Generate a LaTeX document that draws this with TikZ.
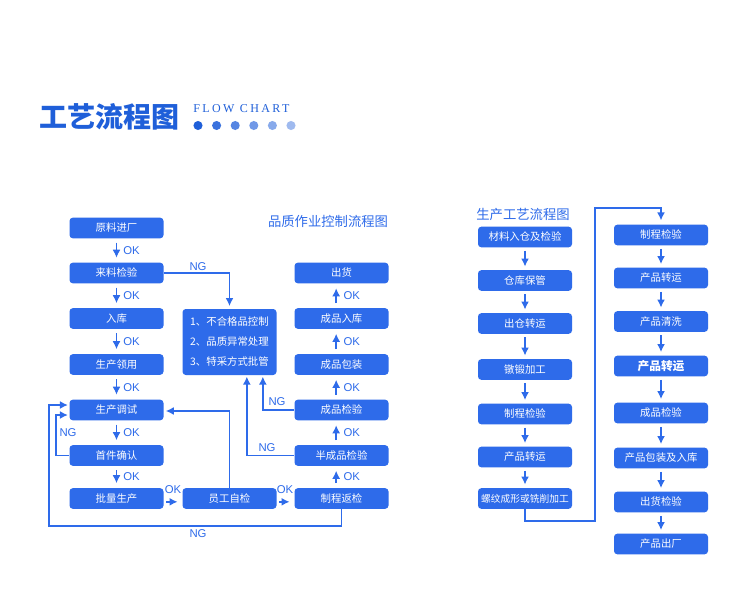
\documentclass[tikz,border=0pt]{standalone}
\usepackage{fontspec}
\setmainfont{Liberation Sans}
\newfontfamily\cjk{Noto Sans CJK SC}
\newfontfamily\latinserif[LetterSpace=20]{Liberation Serif}
\usetikzlibrary{positioning,arrows.meta}
\definecolor{flowblue}{HTML}{2E6BEA}
\definecolor{titleblue}{HTML}{1F5FD9}

\begin{document}
\begin{tikzpicture}[
        x=0.75pt, y=-0.75pt,
        stage/.style={fill=flowblue, rounded corners=2.5pt, minimum width=70.5pt, minimum height=15.5pt, inner sep=0pt, text=white, font=\cjk\fontsize{7.8}{9}\selectfont},
        link/.style={draw=flowblue, line width=1.25pt, -{Latex[length=6pt,width=6pt]}},
        tag/.style={text=flowblue, inner sep=0pt, font=\fontsize{8.5}{10}\selectfont}
    ]
        \useasboundingbox[fill=white] (0,0) rectangle (750,614);

        % heading
        \node[anchor=west, inner sep=0pt, text=titleblue, font=\cjk\bfseries\fontsize{21}{24}\selectfont] (title) at (39,117) {工艺流程图};
        \node[anchor=west, inner sep=0pt, text=titleblue, font=\latinserif\fontsize{9}{10}\selectfont] (entitle) at (193,108.5) {FLOW CHART};
        \foreach \i/\c in {0/100,1/88,2/76,3/64,4/53,5/43}
            \fill[titleblue!\c] (198+\i*18.6,125.5) circle (3.4pt);

        % quality control chart
        \node[text=flowblue, font=\cjk\fontsize{10}{12}\selectfont] (qctitle) at (328,221) {品质作业控制流程图};

        \node[stage] (a1) at (116.5,228)   {原料进厂};
        \node[stage] (a2) at (116.5,273)   {来料检验};
        \node[stage] (a3) at (116.5,318.5) {入库};
        \node[stage] (a4) at (116.5,364.5) {生产领用};
        \node[stage] (a5) at (116.5,410)   {生产调试};
        \node[stage] (a6) at (116.5,455.5) {首件确认};
        \node[stage] (a7) at (116.5,498.5) {批量生产};

        \node[stage, minimum height=49.5pt, align=left, font=\cjk\fontsize{7.8}{15}\selectfont] (ng) at (229.5,342)
            {1、不合格品控制\\2、品质异常处理\\3、特采方式批管};
        \node[stage] (m2) at (229.5,498.5) {员工自检};

        \node[stage] (r1) at (341.5,273)   {出货};
        \node[stage] (r2) at (341.5,318.5) {成品入库};
        \node[stage] (r3) at (341.5,364.5) {成品包装};
        \node[stage] (r4) at (341.5,410)   {成品检验};
        \node[stage] (r5) at (341.5,455.5) {半成品检验};
        \node[stage] (r6) at (341.5,498.5) {制程返检};

        \foreach \u/\v in {a1/a2,a2/a3,a3/a4,a4/a5,a5/a6,a6/a7}
            \draw[link, shorten <=3pt, shorten >=3.5pt] (\u) -- (\v) node[tag, midway, right=4.5pt] {OK};
        \foreach \u/\v in {r6/r5,r5/r4,r4/r3,r3/r2,r2/r1}
            \draw[link, shorten <=3.5pt, shorten >=3.5pt] ([xshift=-4pt]\u.north) -- ([xshift=-4pt]\v.south) node[tag, midway, right=5pt] {OK};

        \draw[link, shorten <=2pt, shorten >=3.5pt] ([yshift=-2.5pt]a7.east) -- ([yshift=-2.5pt]m2.west);
        \node[tag] (ok1) at (173,490) {OK};
        \draw[link, shorten <=2pt, shorten >=3.5pt] ([yshift=-2.5pt]m2.east) -- ([yshift=-2.5pt]r6.west);
        \node[tag] (ok2) at (285,490) {OK};

        \draw[link, shorten >=2pt] (a2.east) -| (ng.north);
        \node[tag] (ng1) at (198,266.5) {NG};
        \draw[link, shorten >=1pt] (r4.west) -| ([xshift=25pt]ng.south);
        \node[tag] (ng2) at (277,402) {NG};
        \draw[link, shorten >=1pt] (r5.west) -| ([xshift=13pt]ng.south);
        \node[tag] (ng3) at (267,448) {NG};
        \draw[link, shorten >=1.5pt] (m2.north) |- ([yshift=-0.75pt]a5.east);
        \draw[link, shorten >=1pt] (a6.west) -- ++(-13,0) |- ([yshift=-3.75pt]a5.west);
        \node[tag] (ng4) at (68,433) {NG};
        \draw[link, shorten >=1pt] (r6.south) |- (49,526) |- ([yshift=3.75pt]a5.west);
        \node[tag] (ng5) at (198,534) {NG};

        % production process chart
        \node[text=flowblue, font=\cjk\fontsize{10}{12}\selectfont] (pptitle) at (523,214) {生产工艺流程图};

        \node[stage] (p1) at (525,237)   {材料入仓及检验};
        \node[stage] (p2) at (525,280.5) {仓库保管};
        \node[stage] (p3) at (525,323.5) {出仓转运};
        \node[stage] (p4) at (525,369.5) {镦锻加工};
        \node[stage] (p5) at (525,414)   {制程检验};
        \node[stage] (p6) at (525,457)   {产品转运};
        \node[stage, font=\cjk\fontsize{7.3}{9}\selectfont] (p7) at (525,498.5) {螺纹成形或铣削加工};

        \node[stage] (q1) at (661,235)   {制程检验};
        \node[stage] (q2) at (661,278)   {产品转运};
        \node[stage] (q3) at (661,321.5) {产品清洗};
        \node[stage, font=\cjk\bfseries\fontsize{8.8}{10}\selectfont] (q4) at (661,366) {产品转运};
        \node[stage] (q5) at (661,413)   {成品检验};
        \node[stage] (q6) at (661,458)   {产品包装及入库};
        \node[stage] (q7) at (661,502)   {出货检验};
        \node[stage] (q8) at (661,544)   {产品出厂};

        \foreach \u/\v in {p1/p2,p2/p3,p3/p4,p4/p5,p5/p6,p6/p7,q1/q2,q2/q3,q3/q4,q4/q5,q5/q6,q6/q7,q7/q8}
            \draw[link, shorten <=2.5pt, shorten >=2.5pt] (\u) -- (\v);
        \draw[link, shorten >=3pt] (p7.south) |- (595,521) |- (661,208) -- (q1.north);
    \end{tikzpicture}
\end{document}
